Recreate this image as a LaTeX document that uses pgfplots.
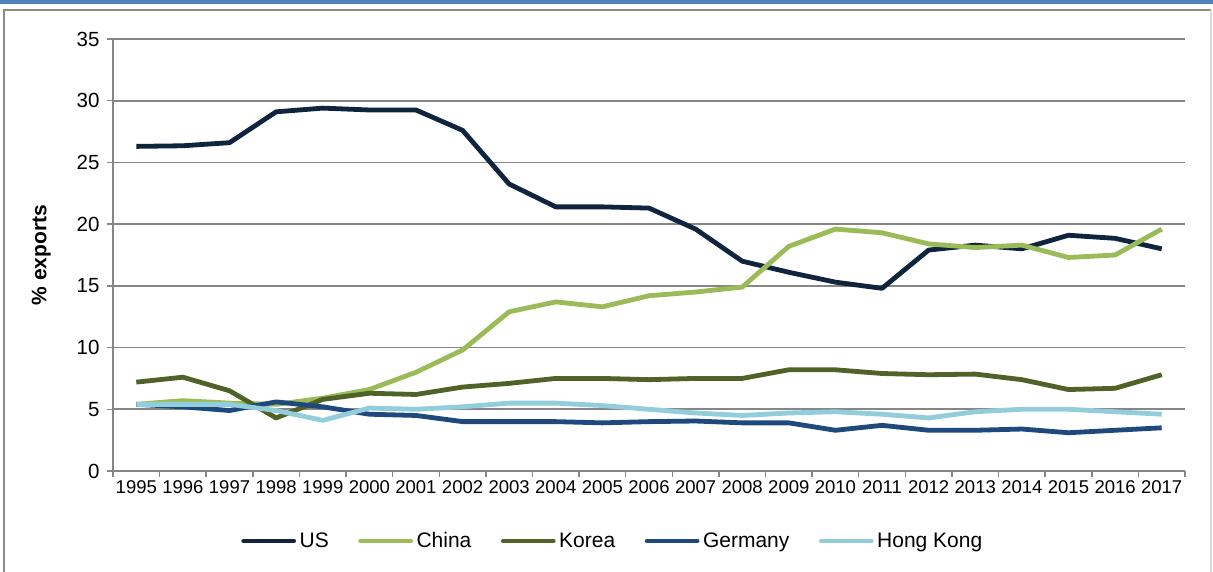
\documentclass[border=0pt]{standalone}
\usepackage{pgfplots}
\pgfplotsset{compat=1.18}
\usepackage{pgfplotstable}
\usepackage{fontspec}
\setmainfont{Liberation Sans}
\definecolor{cUS}{HTML}{10243E}
\definecolor{cChina}{HTML}{9BBB59}
\definecolor{cKorea}{HTML}{4F6228}
\definecolor{cGermany}{HTML}{1F497D}
\definecolor{cHK}{HTML}{92CDDC}
\definecolor{gridgray}{HTML}{868686}
\definecolor{band}{HTML}{4F81BD}
\definecolor{framegray}{HTML}{8C8C8C}
\definecolor{framelight}{HTML}{D9D9D9}

\pgfplotstableread{
x US China Korea Germany HK
0 26.3 5.4 7.2 5.4 5.4
1 26.35 5.7 7.6 5.2 5.4
2 26.6 5.5 6.5 4.9 5.4
3 29.1 5.4 4.3 5.6 4.9
4 29.4 5.9 5.8 5.2 4.1
5 29.25 6.6 6.3 4.6 5.1
6 29.25 8.0 6.2 4.5 5.0
7 27.6 9.8 6.8 4.0 5.2
8 23.25 12.9 7.1 4.0 5.5
9 21.4 13.7 7.5 4.0 5.5
10 21.4 13.3 7.5 3.9 5.3
11 21.3 14.2 7.4 4.0 5.0
12 19.6 14.5 7.5 4.05 4.7
13 17.0 14.9 7.5 3.9 4.5
14 16.1 18.2 8.2 3.9 4.7
15 15.3 19.6 8.2 3.3 4.8
16 14.8 19.3 7.9 3.7 4.6
17 17.9 18.4 7.8 3.3 4.3
18 18.3 18.1 7.85 3.3 4.8
19 18.0 18.3 7.4 3.4 5.0
20 19.1 17.3 6.6 3.1 5.0
21 18.85 17.5 6.7 3.3 4.8
22 18.0 19.6 7.8 3.5 4.6
}\datatable

\begin{document}
\begin{tikzpicture}[x=1pt,y=1pt]
\useasboundingbox (-113,-100) rectangle (1100,471);
\fill[white] (-113,-100) rectangle (1100,471);
\fill[band] (-113,466.5) rectangle (1100,471);
\draw[framegray, line width=2pt] (-108.5,-102) -- (-108.5,461) -- (1098,461);
\draw[framelight, line width=1.2pt] (1098,461) -- (1098,-102);
\begin{axis}[
  at={(0,0)}, anchor=south west,
  scale only axis, width=1072pt, height=432pt,
  xmin=-0.5, xmax=22.5, ymin=0, ymax=35,
  xtick={-0.5,0.5,...,22.5},
  x tick label as interval,
  xticklabels={1995,1996,1997,1998,1999,2000,2001,2002,2003,2004,2005,2006,2007,2008,2009,2010,2011,2012,2013,2014,2015,2016,2017},
  ytick={0,5,...,35},
  tick align=outside,
  major tick length=6pt,
  tick style={draw=gridgray, line width=1.5pt},
  axis x line*=bottom, axis y line*=left,
  axis line style={-, draw=gridgray, line width=1.5pt},
  ymajorgrids, grid style={draw=gridgray, line width=1.8pt},
  /pgf/number format/assume math mode=true,
  xticklabel style={font=\fontsize{18.5}{20}\selectfont},
  yticklabel style={font=\fontsize{20.5}{22}\selectfont, xshift=-4pt},
  ylabel={\% exports},
  ylabel style={font=\bfseries\fontsize{21}{24}\selectfont, at={(axis description cs:-0.067,0.5)}, anchor=center},
  legend style={at={(0.466,-0.162)}, anchor=center, draw=none, fill=none,
     font=\fontsize{21}{24}\selectfont, legend columns=5,
     nodes={inner sep=1.5pt},
     /tikz/every odd column/.append style={column sep=2pt},
     /tikz/every even column/.append style={column sep=28pt}},
  legend cell align=left,
  legend image code/.code={\draw[#1, line cap=round] (2.5pt,0pt) -- (52.5pt,0pt);},
  every axis plot/.append style={line width=4.8pt, line join=round, no markers},
]
\addplot[cUS] table[x=x,y=US] {\datatable};
\addlegendentry{US}
\addplot[cChina] table[x=x,y=China] {\datatable};
\addlegendentry{China}
\addplot[cKorea] table[x=x,y=Korea] {\datatable};
\addlegendentry{Korea}
\addplot[cGermany] table[x=x,y=Germany] {\datatable};
\addlegendentry{Germany}
\addplot[cHK] table[x=x,y=HK] {\datatable};
\addlegendentry{Hong Kong}
\end{axis}
\end{tikzpicture}
\end{document}
